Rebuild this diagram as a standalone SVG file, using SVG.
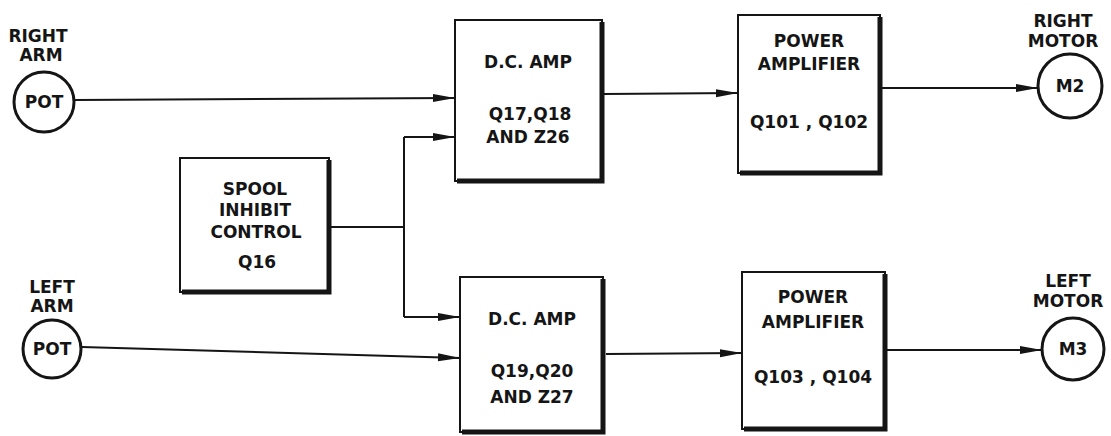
<svg xmlns="http://www.w3.org/2000/svg" width="1111" height="436" viewBox="0 0 1111 436">
<style>
text{font-family:"DejaVu Sans","Liberation Sans",sans-serif;font-weight:bold;font-size:17px;fill:#151515;text-anchor:middle}
.box{fill:#fff;stroke:#151515;stroke-width:2}
.shadow{fill:none;stroke:#151515;stroke-width:5}
.circ{fill:#fff;stroke:#151515;stroke-width:3}
.ln{fill:none;stroke:#151515;stroke-width:2}
</style>
<defs>
<marker id="arr" markerUnits="userSpaceOnUse" markerWidth="24" markerHeight="10" refX="22" refY="4" orient="auto">
<path d="M0,0 L22,4 L0,8 Z" fill="#151515"/>
</marker>
</defs>
<rect width="1111" height="436" fill="#fff"/>
<g id="connectors">
<line class="ln" x1="75" y1="100" x2="455" y2="98" marker-end="url(#arr)"/>
<polyline class="ln" points="330,227 404,227"/>
<polyline class="ln" points="404,137 404,317"/>
<line class="ln" x1="404" y1="137" x2="455" y2="137" marker-end="url(#arr)"/>
<line class="ln" x1="404" y1="317" x2="460" y2="317" marker-end="url(#arr)"/>
<line class="ln" x1="82" y1="347" x2="460" y2="358" marker-end="url(#arr)"/>
<line class="ln" x1="604" y1="94" x2="738" y2="93" marker-end="url(#arr)"/>
<line class="ln" x1="606" y1="354" x2="742" y2="353" marker-end="url(#arr)"/>
<line class="ln" x1="882" y1="88" x2="1038" y2="88" marker-end="url(#arr)"/>
<line class="ln" x1="887" y1="350" x2="1042" y2="350" marker-end="url(#arr)"/>
</g>
<g id="right-arm-pot">
<text x="38" y="42">RIGHT</text>
<text x="41" y="61">ARM</text>
<circle class="circ" cx="44" cy="102" r="30"/>
<text x="44" y="108">POT</text>
</g>
<g id="left-arm-pot">
<text x="52" y="293">LEFT</text>
<text x="52" y="312">ARM</text>
<circle class="circ" cx="52" cy="349" r="29"/>
<text x="52" y="355">POT</text>
</g>
<g id="spool-inhibit-control">
<rect class="box" x="180" y="158" width="149" height="134"/>
<path class="shadow" d="M329,160 V292 H182"/>
<text x="255" y="195">SPOOL</text>
<text x="255" y="216">INHIBIT</text>
<text x="256" y="238">CONTROL</text>
<text x="257" y="268">Q16</text>
</g>
<g id="dc-amp-top">
<rect class="box" x="455" y="20" width="147" height="161"/>
<path class="shadow" d="M602,22 V181 H457"/>
<text x="528" y="68">D.C. AMP</text>
<text x="530" y="120">Q17,Q18</text>
<text x="528" y="143">AND Z26</text>
</g>
<g id="dc-amp-bottom">
<rect class="box" x="460" y="277" width="143" height="155"/>
<path class="shadow" d="M603,279 V432 H462"/>
<text x="532" y="325">D.C. AMP</text>
<text x="532" y="377">Q19,Q20</text>
<text x="532" y="403">AND Z27</text>
</g>
<g id="power-amp-top">
<rect class="box" x="738" y="15" width="142" height="158"/>
<path class="shadow" d="M880,17 V173 H740"/>
<text x="809" y="47">POWER</text>
<text x="809" y="70">AMPLIFIER</text>
<text x="809" y="128">Q101 , Q102</text>
</g>
<g id="power-amp-bottom">
<rect class="box" x="742" y="272" width="143" height="157"/>
<path class="shadow" d="M885,274 V429 H744"/>
<text x="813" y="303">POWER</text>
<text x="813" y="328">AMPLIFIER</text>
<text x="813" y="383">Q103 , Q104</text>
</g>
<g id="right-motor">
<text x="1063" y="27">RIGHT</text>
<text x="1063" y="47">MOTOR</text>
<circle class="circ" cx="1070" cy="86" r="32"/>
<text x="1070" y="92">M2</text>
</g>
<g id="left-motor">
<text x="1068" y="287">LEFT</text>
<text x="1068" y="307">MOTOR</text>
<circle class="circ" cx="1073" cy="349" r="31"/>
<text x="1073" y="355">M3</text>
</g>
</svg>
